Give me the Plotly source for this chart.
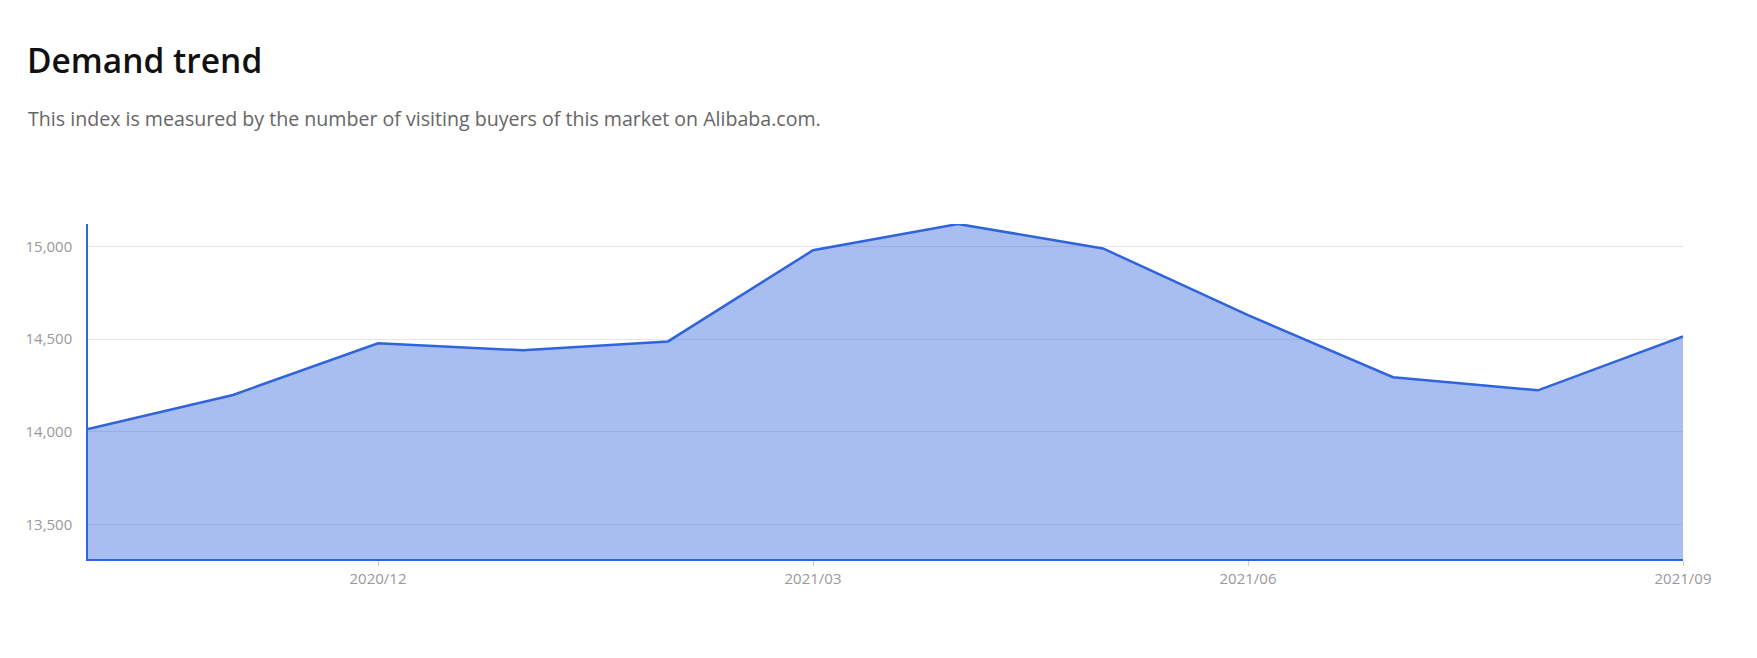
import plotly.graph_objects as go

months = ["2020/10", "2020/11", "2020/12", "2021/01", "2021/02", "2021/03",
          "2021/04", "2021/05", "2021/06", "2021/07", "2021/08", "2021/09"]
demand = [14015, 14199, 14478, 14440, 14488, 14980,
          15122, 14990, 14630, 14295, 14224, 14515]
x_ticks = ["2020/12", "2021/03", "2021/06", "2021/09"]
y_ticks = [13500, 14000, 14500, 15000]

title_text = "Demand trend"
subtitle_text = "This index is measured by the number of visiting buyers of this market on Alibaba.com."

# page body has an 8px margin, so the figure is a bit smaller than the window
W, H = 1741, 642
ML, MR, MT, MB = 80, 66, 216, 91
PW = W - ML - MR
PH = H - MT - MB

line_color = "#2f64dc"

area = go.Scatter(
    x=months, y=demand,
    mode="lines",
    line=dict(color=line_color, width=2.5),
    fill="tozeroy",
    fillcolor="rgba(48,100,220,0.42)",
    hoverinfo="x+y",
)

fig = go.Figure(data=[area])

fig.update_layout(
    width=W, height=H,
    margin=dict(l=ML, r=MR, t=MT, b=MB),
    paper_bgcolor="white",
    plot_bgcolor="white",
    showlegend=False,
    font=dict(family="Open Sans", color="#999999", size=15),
    title=dict(
        text=title_text,
        font=dict(family="Open Sans", size=33.5, color="#111111", weight=600),
        xref="container", yref="container",
        x=19 / W, xanchor="left",
        y=1 - 53 / H, yanchor="middle",
    ),
    annotations=[dict(
        text=subtitle_text,
        xref="paper", yref="paper",
        x=(18 - ML) / PW, xanchor="left",
        y=1 + (MT - 110) / PH, yanchor="middle",
        showarrow=False,
        font=dict(family="Open Sans", size=19.6, color="#666666"),
    )],
)

fig.update_xaxes(
    type="category",
    range=[0, len(months) - 1],
    tickmode="array",
    tickvals=x_ticks,
    ticktext=x_ticks,
    showgrid=False,
    showline=True, linecolor=line_color, linewidth=1.5,
    ticks="outside", ticklen=5, tickcolor="#cccccc",
    tickfont=dict(size=15, color="#999999"),
    zeroline=False,
)

fig.update_yaxes(
    range=[13313, 15122],
    tickmode="array",
    tickvals=y_ticks,
    tickformat=",d",
    showgrid=True, gridcolor="#e6e6e6", gridwidth=1,
    showline=True, linecolor=line_color, linewidth=1.5,
    ticks="", ticklabelstandoff=11,
    tickfont=dict(size=15, color="#999999"),
    zeroline=False,
)

fig.write_html("out.html")
